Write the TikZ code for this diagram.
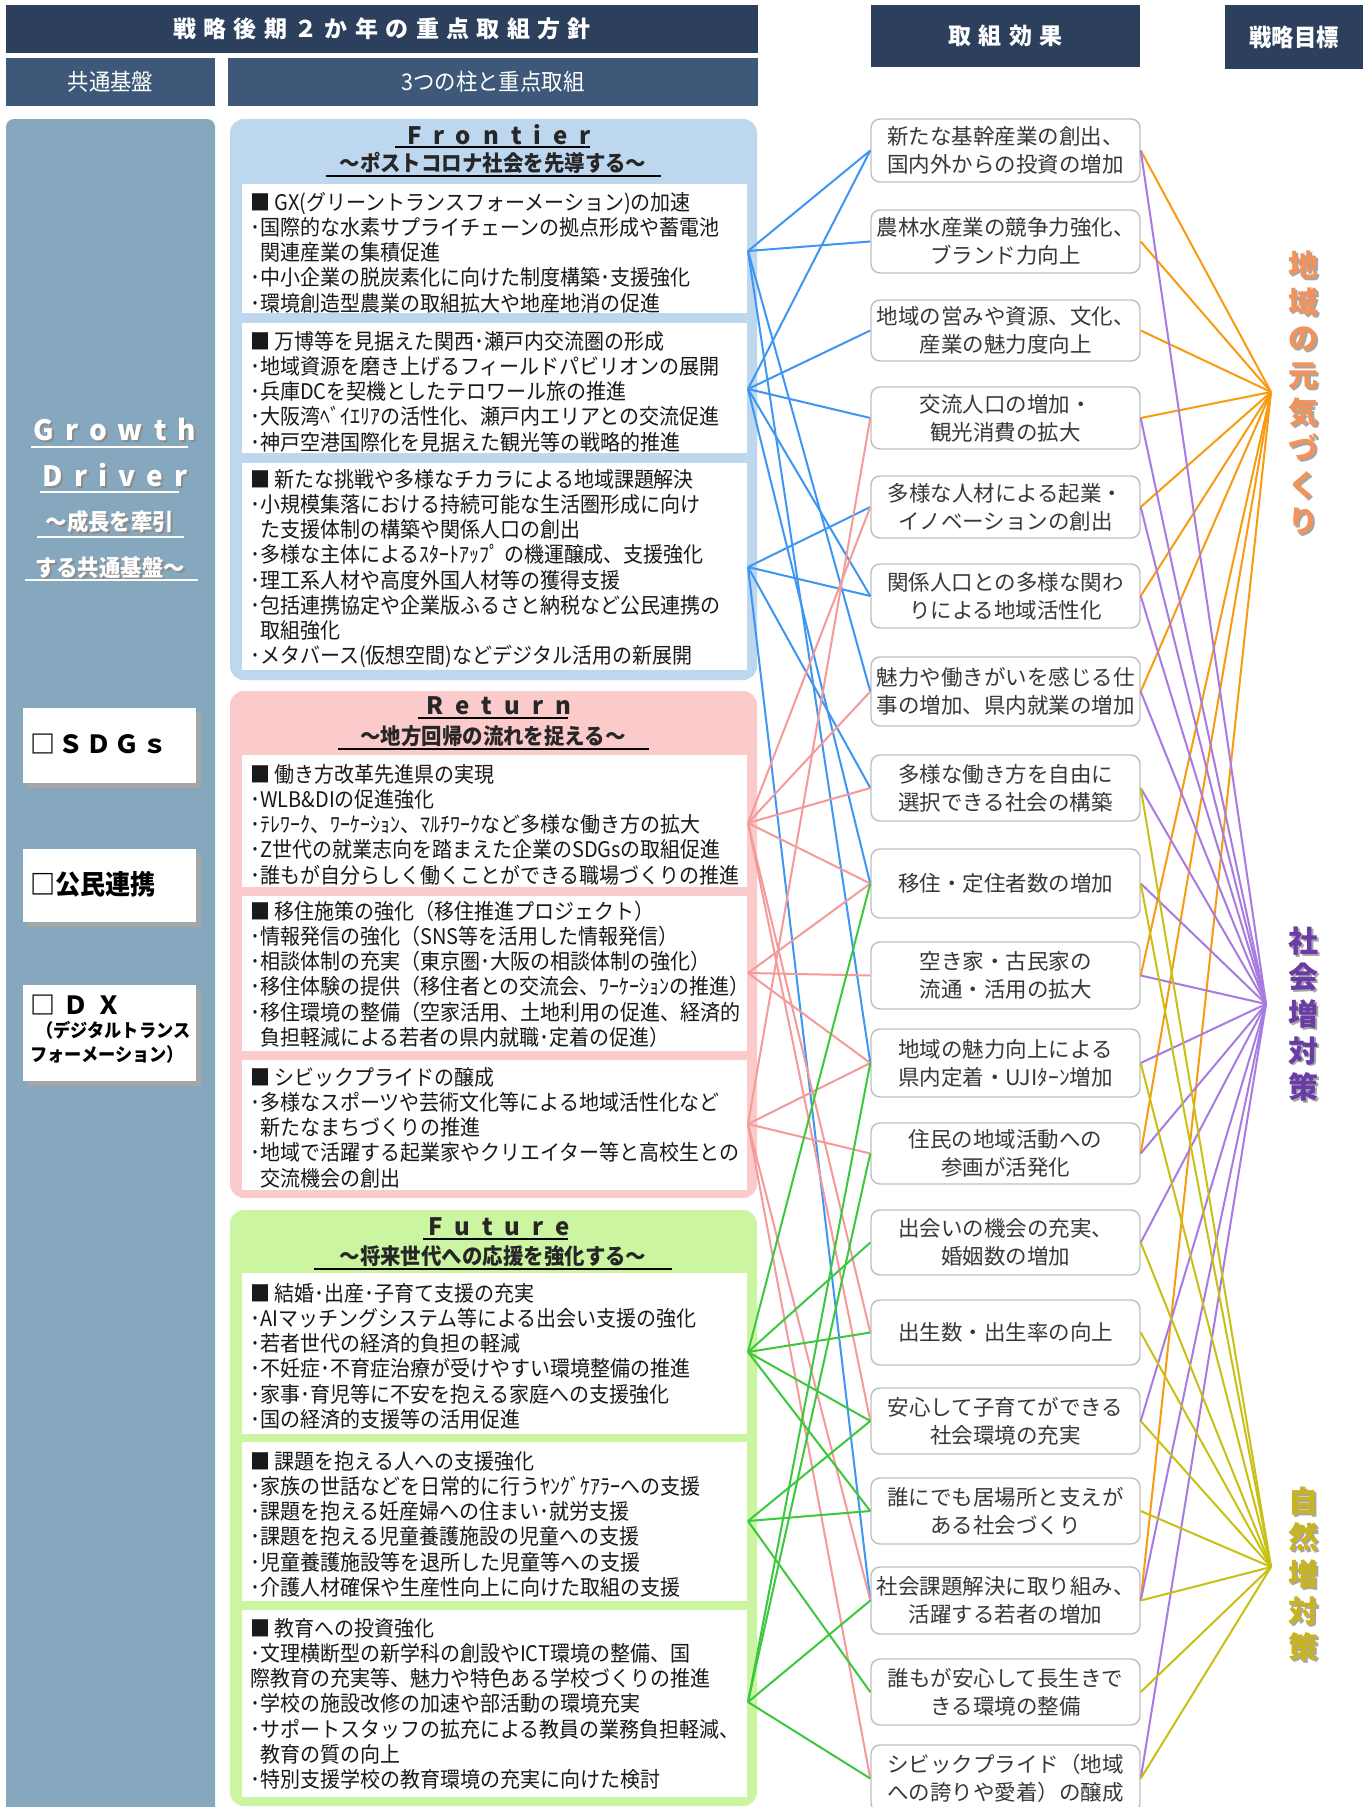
\documentclass[tikz,border=0pt]{standalone}
\usepackage{fontspec}
\setmainfont{Noto Sans CJK JP}
\newfontfamily\jpc[FakeStretch=0.93]{Noto Sans CJK JP}
\newfontfamily\jpl[LetterSpace=32]{Noto Sans CJK JP}
\newfontfamily\jps[LetterSpace=12]{Noto Sans CJK JP}
\newfontfamily\jpt[LetterSpace=40]{Noto Sans CJK JP}
\newfontfamily\jpw[LetterSpace=50]{Noto Sans CJK JP}
\newcommand\fsz[2]{\fontsize{#1}{#2}\selectfont}
\definecolor{navy}{HTML}{2C405E}
\definecolor{navyb}{HTML}{3D5879}
\definecolor{steel}{HTML}{86A8BE}
\definecolor{fblue}{HTML}{BDD7EE}
\definecolor{rpink}{HTML}{FBCBCB}
\definecolor{ugreen}{HTML}{CCF5A2}
\definecolor{lblue}{HTML}{3D96F2}
\definecolor{lpink}{HTML}{F59A9A}
\definecolor{lgreen}{HTML}{3CC83C}
\definecolor{lorange}{HTML}{F99B10}
\definecolor{lpurple}{HTML}{A77BDF}
\definecolor{lyellow}{HTML}{C8C012}
\definecolor{goalO}{HTML}{F2935C}
\definecolor{goalP}{HTML}{6A3CA5}
\definecolor{goalY}{HTML}{C9B420}
\begin{document}
\begin{tikzpicture}[x=1pt,y=-1pt,
  hdr/.style={fill=navy,text=white,inner sep=0pt},
  btxt/.style={anchor=north west,align=left,inner sep=0pt,font=\jpc\fsz{21.5}{25.2},text=black!90},
  ttl/.style={inner sep=1pt,font=\jpw\bfseries\fsz{24}{26},text=black!85,xshift=6pt},
  sttl/.style={inner sep=1pt,font=\jpc\bfseries\fsz{22}{24},text=black!85},
  obox/.style={draw=gray!50,line width=1.4pt,fill=white,rounded corners=9pt,minimum width=269pt,inner sep=0pt,align=center,font=\fsz{21.5}{28},text=black!78},
  sbox/.style={fill=white,inner sep=0pt,minimum width=173pt},
  gdt/.style={inner sep=1pt,text=white,font=\jpt\bfseries\fsz{28}{30},xshift=5pt},
  gdj/.style={inner sep=1pt,text=white,font=\jpc\bfseries\fsz{23}{26}},
  goal/.style={inner sep=0pt,align=center,font=\bfseries\fsz{30}{36.6}},
  cb/.style={draw=lblue,line width=2pt},
  cp/.style={draw=lpink,line width=2pt},
  cg/.style={draw=lgreen,line width=2pt},
  co/.style={draw=lorange,line width=2pt},
  cv/.style={draw=lpurple,line width=2pt},
  cy/.style={draw=lyellow,line width=2pt},
  uline/.style={line width=1.6pt}
]
\useasboundingbox (0,0) rectangle (1372,1807);
\fill[white] (0,0) rectangle (1372,1807);

% ---------- headers
\node[hdr,minimum width=752pt,minimum height=48pt] (h1) at (382,29) {\jpl\bfseries\fsz{23}{25}戦略後期２か年の重点取組方針};
\node[hdr,fill=navyb,minimum width=209pt,minimum height=48pt] (h2) at (110.5,82) {\jpc\fsz{23}{25}共通基盤};
\node[hdr,fill=navyb,minimum width=530pt,minimum height=48pt] (h3) at (493,82) {\jpc\fsz{23}{25}3つの柱と重点取組};
\node[hdr,minimum width=269pt,minimum height=62pt] (h4) at (1005.5,36) {\jpl\bfseries\fsz{23}{25}取組効果};
\node[hdr,minimum width=138pt,minimum height=64pt] (h5) at (1294,37) {\jpc\bfseries\fsz{24}{26}戦略目標};

% ---------- left column
\fill[steel,rounded corners=8pt] (6,119) rectangle (215,1840);
\node[gdt,text=black!45] at (112,432) {Growth};
\node[gdt] (gd1) at (110,430) {Growth};
\draw[white,uline] (31,447) -- (188,447);
\node[gdt,text=black!45] at (112,477) {Driver};
\node[gdt] (gd2) at (110,475) {Driver};
\draw[white,uline] (40,492) -- (179,492);
\node[gdj,text=black!45] at (112,524) {～成長を牽引};
\node[gdj] (gd3) at (110,522) {～成長を牽引};
\draw[white,uline] (37,537) -- (184,537);
\node[gdj,text=black!45] at (112,570) {する共通基盤～};
\node[gdj] (gd4) at (110,568) {する共通基盤～};
\draw[white,uline] (25,580) -- (198,580);

\fill[black!35] (28,713) rectangle (201,788);
\node[sbox,minimum height=75pt] (sdg) at (109.5,745.5) {};
\node[anchor=west,inner sep=0pt,font=\jps\bfseries\fsz{25}{27}] (sdgt) at (30,744) {□ＳＤＧｓ};
\fill[black!35] (28,854) rectangle (201,927);
\node[sbox,minimum height=73pt] (kmr) at (109.5,885.5) {};
\node[anchor=west,inner sep=0pt,font=\jpc\bfseries\fsz{27}{29}] (kmrt) at (30,884) {□公民連携};
\fill[black!35] (28,990) rectangle (201,1086);
\node[sbox,minimum height=96pt] (dx) at (109.5,1033) {};
\node[anchor=west,inner sep=0pt,font=\jpl\bfseries\fsz{25}{27}] (dxt) at (30,1005) {□ＤＸ};
\node[anchor=north west,inner sep=0pt,align=left,font=\jpc\bfseries\fsz{18.5}{24}] (dxs) at (30,1021) {\hspace*{6pt}（デジタルトランス\\フォーメーション）};

% ---------- pillar groups
\fill[fblue,rounded corners=14pt] (230,119) rectangle (757,680);
\fill[rpink,rounded corners=14pt] (230,691) rectangle (757,1198);
\fill[ugreen,rounded corners=14pt] (230,1210) rectangle (757,1806);

\node[ttl] (tF) at (493,135) {Frontier};
\draw[uline] (395,147) -- (590,147);
\node[sttl] (sF) at (493,163) {～ポストコロナ社会を先導する～};
\draw[uline] (326,176) -- (661,176);
\node[ttl] (tR) at (493,706) {Return};
\draw[uline] (418,718) -- (568,718);
\node[sttl] (sR) at (493,736) {～地方回帰の流れを捉える～};
\draw[uline] (338,749) -- (649,749);
\node[ttl] (tU) at (493,1227) {Future};
\draw[uline] (423,1239) -- (568,1239);
\node[sttl] (sU) at (493,1256) {～将来世代への応援を強化する～};
\draw[uline] (314,1269) -- (672,1269);

% white content boxes
\fill[white] (242,184) rectangle (747,313);
\fill[white] (242,323) rectangle (747,453);
\fill[white] (242,463) rectangle (747,670);
\fill[white] (242,755) rectangle (747,887);
\fill[white] (242,896) rectangle (747,1051);
\fill[white] (242,1060) rectangle (747,1190);
\fill[white] (242,1273) rectangle (747,1434);
\fill[white] (242,1442) rectangle (747,1601);
\fill[white] (242,1610) rectangle (747,1797);

\node[btxt] (bf1) at (250,190) {\rule{0pt}{20pt}■ GX(グリーントランスフォーメーション)の加速\\･国際的な水素サプライチェーンの拠点形成や蓄電池\\\hspace*{10pt}関連産業の集積促進\\･中小企業の脱炭素化に向けた制度構築･支援強化\\･環境創造型農業の取組拡大や地産地消の促進};
\node[btxt] (bf2) at (250,329) {\rule{0pt}{20pt}■ 万博等を見据えた関西･瀬戸内交流圏の形成\\･地域資源を磨き上げるフィールドパビリオンの展開\\･兵庫DCを契機としたテロワール旅の推進\\･大阪湾ﾍﾞｲｴﾘｱの活性化、瀬戸内エリアとの交流促進\\･神戸空港国際化を見据えた観光等の戦略的推進};
\node[btxt] (bf3) at (250,467) {\rule{0pt}{20pt}■ 新たな挑戦や多様なチカラによる地域課題解決\\･小規模集落における持続可能な生活圏形成に向け\\\hspace*{10pt}た支援体制の構築や関係人口の創出\\･多様な主体によるｽﾀｰﾄｱｯﾌﾟ の機運醸成、支援強化\\･理工系人材や高度外国人材等の獲得支援\\･包括連携協定や企業版ふるさと納税など公民連携の\\\hspace*{10pt}取組強化\\･メタバース(仮想空間)などデジタル活用の新展開};
\node[btxt] (br1) at (250,762) {\rule{0pt}{20pt}■ 働き方改革先進県の実現\\･WLB\&DIの促進強化\\･ﾃﾚﾜｰｸ、ﾜｰｹｰｼｮﾝ、ﾏﾙﾁﾜｰｸなど多様な働き方の拡大\\･Z世代の就業志向を踏まえた企業のSDGsの取組促進\\･誰もが自分らしく働くことができる職場づくりの推進};
\node[btxt] (br2) at (250,899) {\rule{0pt}{20pt}■ 移住施策の強化（移住推進プロジェクト）\\･情報発信の強化（SNS等を活用した情報発信）\\･相談体制の充実（東京圏･大阪の相談体制の強化）\\･移住体験の提供（移住者との交流会、ﾜｰｹｰｼｮﾝの推進）\\･移住環境の整備（空家活用、土地利用の促進、経済的\\\hspace*{10pt}負担軽減による若者の県内就職･定着の促進）};
\node[btxt] (br3) at (250,1065) {\rule{0pt}{20pt}■ シビックプライドの醸成\\･多様なスポーツや芸術文化等による地域活性化など\\\hspace*{10pt}新たなまちづくりの推進\\･地域で活躍する起業家やクリエイター等と高校生との\\\hspace*{10pt}交流機会の創出};
\node[btxt] (bu1) at (250,1281) {\rule{0pt}{20pt}■ 結婚･出産･子育て支援の充実\\･AIマッチングシステム等による出会い支援の強化\\･若者世代の経済的負担の軽減\\･不妊症･不育症治療が受けやすい環境整備の推進\\･家事･育児等に不安を抱える家庭への支援強化\\･国の経済的支援等の活用促進};
\node[btxt] (bu2) at (250,1449) {\rule{0pt}{20pt}■ 課題を抱える人への支援強化\\･家族の世話などを日常的に行うﾔﾝｸﾞｹｱﾗｰへの支援\\･課題を抱える妊産婦への住まい･就労支援\\･課題を抱える児童養護施設の児童への支援\\･児童養護施設等を退所した児童等への支援\\･介護人材確保や生産性向上に向けた取組の支援};
\node[btxt] (bu3) at (250,1616) {\rule{0pt}{20pt}■ 教育への投資強化\\･文理横断型の新学科の創設やICT環境の整備、国\\際教育の充実等、魅力や特色ある学校づくりの推進\\･学校の施設改修の加速や部活動の環境充実\\･サポートスタッフの拡充による教員の業務負担軽減、\\\hspace*{10pt}教育の質の向上\\･特別支援学校の教育環境の充実に向けた検討};

% hubs
\coordinate (hf1) at (748,251);
\coordinate (hf2) at (748,389);
\coordinate (hf3) at (748,567);
\coordinate (hr1) at (748,823);
\coordinate (hr2) at (748,973);
\coordinate (hr3) at (748,1124);
\coordinate (hu1) at (748,1352);
\coordinate (hu2) at (748,1521);
\coordinate (hu3) at (748,1702);
\coordinate (gA) at (1271,392);
\coordinate (gB) at (1266,1004);
\coordinate (gC) at (1271,1567);

% ---------- outcome boxes
\node[obox,minimum height=63pt] (o1) at (1005.5,150.5) {新たな基幹産業の創出、\\国内外からの投資の増加};
\node[obox,minimum height=63pt] (o2) at (1005.5,241.5) {農林水産業の競争力強化、\\ブランド力向上};
\node[obox,minimum height=61pt] (o3) at (1005.5,330.5) {地域の営みや資源、文化、\\産業の魅力度向上};
\node[obox,minimum height=62pt] (o4) at (1005.5,418) {交流人口の増加・\\観光消費の拡大};
\node[obox,minimum height=62pt] (o5) at (1005.5,507) {多様な人材による起業・\\イノベーションの創出};
\node[obox,minimum height=64pt] (o6) at (1005.5,596) {関係人口との多様な関わ\\りによる地域活性化};
\node[obox,minimum height=69pt] (o7) at (1005.5,691.5) {魅力や働きがいを感じる仕\\事の増加、県内就業の増加};
\node[obox,minimum height=66pt] (o8) at (1005.5,788) {多様な働き方を自由に\\選択できる社会の構築};
\node[obox,minimum height=69pt] (o9) at (1005.5,883.5) {移住・定住者数の増加};
\node[obox,minimum height=67pt] (o10) at (1005.5,975.5) {空き家・古民家の\\流通・活用の拡大};
\node[obox,minimum height=68pt] (o11) at (1005.5,1063) {地域の魅力向上による\\県内定着・UJIﾀｰﾝ増加};
\node[obox,minimum height=61pt] (o12) at (1005.5,1153.5) {住民の地域活動への\\参画が活発化};
\node[obox,minimum height=65pt] (o13) at (1005.5,1242.5) {出会いの機会の充実、\\婚姻数の増加};
\node[obox,minimum height=65pt] (o14) at (1005.5,1332.5) {出生数・出生率の向上};
\node[obox,minimum height=66pt] (o15) at (1005.5,1421) {安心して子育てができる\\社会環境の充実};
\node[obox,minimum height=66pt] (o16) at (1005.5,1511) {誰にでも居場所と支えが\\ある社会づくり};
\node[obox,minimum height=67pt] (o17) at (1005.5,1600.5) {社会課題解決に取り組み、\\活躍する若者の増加};
\node[obox,minimum height=66pt] (o18) at (1005.5,1692) {誰もが安心して長生きで\\きる環境の整備};
\node[obox,minimum height=67pt] (o19) at (1005.5,1778.5) {シビックプライド（地域\\への誇りや愛着）の醸成};

% ---------- connectors
\foreach \a/\b in {hf1/o1,hf1/o2,hf1/o7,hf1/o11,hf2/o1,hf2/o3,hf2/o4,hf2/o6,hf2/o9,hf3/o5,hf3/o6,hf3/o8,hf3/o17}
  \draw[cb] (\a) -- (\b.west);
\foreach \a/\b in {hr1/o5,hr1/o7,hr1/o8,hr1/o9,hr1/o14,hr1/o15,hr2/o9,hr2/o10,hr2/o11,hr3/o4,hr3/o11,hr3/o12,hr3/o17,hr3/o19}
  \draw[cp] (\a) -- (\b.west);
\foreach \a/\b in {hu1/o9,hu1/o13,hu1/o14,hu1/o15,hu1/o16,hu2/o15,hu2/o16,hu2/o18,hu3/o11,hu3/o12,hu3/o17,hu3/o19}
  \draw[cg] (\a) -- (\b.west);
\foreach \b in {o1,o2,o3,o4,o5,o6,o7,o10,o12,o17}
  \draw[co] (\b.east) -- (gA);
\foreach \b in {o1,o4,o5,o6,o7,o8,o9,o10,o11,o12,o13,o15,o17,o19}
  \draw[cv] (\b.east) -- (gB);
\foreach \b in {o8,o9,o11,o13,o14,o15,o16,o17,o18,o19}
  \draw[cy] (\b.east) -- (gC);

% ---------- goals
\node[goal,text=black!35] at (1305,395) {地\\域\\の\\元\\気\\づ\\く\\り};
\node[goal,text=goalO] (gt1) at (1303,393) {地\\域\\の\\元\\気\\づ\\く\\り};
\node[goal,text=black!35] at (1305,1016) {社\\会\\増\\対\\策};
\node[goal,text=goalP] (gt2) at (1303,1014) {社\\会\\増\\対\\策};
\node[goal,text=black!35] at (1305,1576) {自\\然\\増\\対\\策};
\node[goal,text=goalY] (gt3) at (1303,1574) {自\\然\\増\\対\\策};
\end{tikzpicture}
\end{document}
